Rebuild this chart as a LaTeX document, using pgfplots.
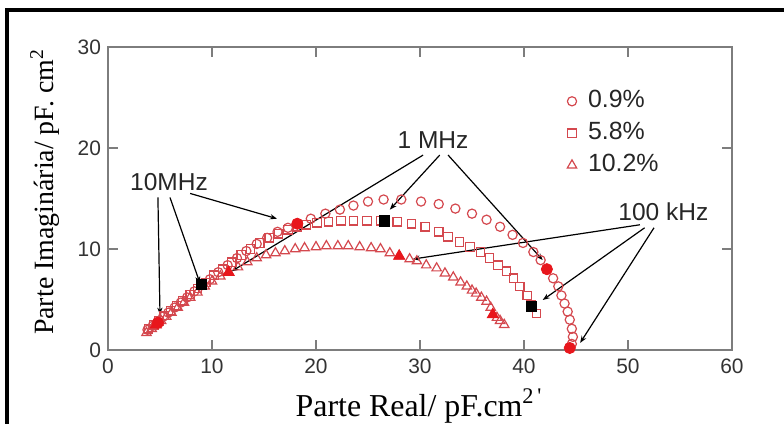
\documentclass[border=0pt]{standalone}
\usepackage{fontspec}
\setmainfont{Liberation Sans}
\newfontfamily\seriffont{Liberation Serif}
\usepackage{pgfplots}
\pgfplotsset{compat=1.18}
\usetikzlibrary{arrows.meta}
\definecolor{mk}{RGB}{212,72,78}
\definecolor{fillred}{RGB}{232,22,28}
\definecolor{axgray}{RGB}{125,125,125}

\pgfplotstableread{
x y
3.8 2.0
4.3 2.4
4.8 2.8
5.3 3.3
5.8 3.7
6.4 4.2
7.0 4.7
7.6 5.2
8.3 5.8
9.0 6.4
9.8 7.0
10.6 7.7
11.5 8.4
12.4 9.1
13.3 9.8
14.3 10.5
15.3 11.1
16.3 11.7
17.3 12.1
18.2 12.5
19.5 13.0
20.9 13.5
22.3 13.9
23.6 14.3
25.0 14.7
26.5 14.9
28.2 14.9
30.1 14.7
31.8 14.45
33.4 14.0
35.0 13.5
36.4 12.9
37.7 12.2
38.9 11.4
39.9 10.6
40.9 9.7
41.6 8.9
42.2 8.0
42.8 7.1
43.3 6.3
43.6 5.4
43.9 4.6
44.2 3.8
44.4 3.0
44.6 2.1
44.7 1.3
44.6 0.6
44.4 0.2
}\circles

\pgfplotstableread{
x y
3.9 2.1
4.4 2.5
4.9 2.9
5.4 3.4
6.0 3.9
6.6 4.4
7.2 4.9
7.9 5.5
8.6 6.1
9.4 6.7
10.2 7.4
11.0 8.0
11.9 8.7
12.8 9.4
13.7 10.0
14.6 10.6
15.5 11.1
16.4 11.5
17.3 11.9
18.2 12.2
19.1 12.4
20.1 12.6
21.2 12.7
22.4 12.8
23.6 12.8
24.9 12.8
26.2 12.8
27.8 12.7
29.2 12.5
30.5 12.2
31.8 11.7
32.7 11.2
33.8 10.7
34.8 10.2
35.8 9.7
36.7 9.1
37.5 8.4
38.3 7.8
39.0 7.1
39.6 6.3
40.3 5.4
40.7 4.5
41.2 3.6
}\squares

\pgfplotstableread{
x y
3.7 1.7
4.2 2.1
4.6 2.5
5.1 2.9
5.6 3.3
6.1 3.7
6.7 4.2
7.3 4.7
7.9 5.2
8.6 5.7
9.3 6.3
10.0 6.8
10.8 7.3
11.6 7.7
12.5 8.2
13.4 8.7
14.3 9.1
15.2 9.4
16.1 9.6
17.0 9.8
18.0 10.0
18.9 10.1
20.0 10.2
21.0 10.3
22.1 10.3
23.1 10.3
24.2 10.2
25.3 10.1
26.2 10.0
27.1 9.6
28.0 9.3
29.0 9.0
29.7 8.8
30.6 8.4
31.6 8.1
32.4 7.6
33.2 7.2
33.9 6.7
34.5 6.3
35.0 5.9
35.4 5.6
35.9 5.2
36.4 4.8
36.8 4.2
37.0 3.5
37.4 3.2
37.7 2.9
38.1 2.5
}\triangles

\begin{document}
\begin{tikzpicture}[x=1bp,y=1bp]
\useasboundingbox (0,0) rectangle (392,212);
\draw[line width=1.6bp] (3.5,-3) -- (3.5,207) -- (396,207);
\begin{axis}[at={(54bp,37bp)}, anchor=south west, scale only axis,
  width=312bp, height=151.5bp,
  xmin=0, xmax=60, ymin=0, ymax=30,
  xtick={0,10,...,60}, ytick={0,10,20,30},
  tick align=inside, major tick length=5bp,
  axis line style={axgray, line width=1bp},
  tick style={axgray, line width=0.8bp},
  ticklabel style={font=\fontsize{10.5}{12}\selectfont, text=black!80},
  xticklabel style={yshift=-1bp},
  /pgf/number format/assume math mode=true,
  clip=false,
  legend style={draw=none, fill=none, at={(axis cs:44.0,26.0)}, anchor=north west,
    inner sep=0pt, row sep=2.5bp, font=\fontsize{12.5}{15}\selectfont,
    nodes={inner sep=1bp, text height=9bp, text depth=2.5bp, text=black!85}},
  legend cell align=left,
  legend image code/.code={\path[draw=none,fill=none] (-3bp,0bp) -- (7bp,0bp);\draw[#1] plot coordinates {(0bp,0bp)};},
]
\addplot[only marks, mark=o, mark size=2.3bp, mk, mark options={line width=0.6bp}] table {\circles};
\addlegendentry{0.9\%}
\addplot[only marks, mark=square, mark size=2.1bp, mk, mark options={line width=0.6bp}] table {\squares};
\addlegendentry{5.8\%}
\addplot[only marks, mark=triangle, mark size=2.7bp, mk, mark options={line width=0.6bp}] table {\triangles};
\addlegendentry{10.2\%}
% highlighted frequencies
\addplot[only marks, mark=*, mark size=2.8bp, fillred, forget plot] coordinates {(4.8,2.7)(18.2,12.5)(42.2,8.0)(44.4,0.2)};
\addplot[only marks, mark=triangle*, mark size=3.2bp, fillred, forget plot] coordinates {(4.6,2.5)(11.6,7.7)(28.0,9.3)(37.0,3.5)};
\addplot[only marks, mark=square*, mark size=2.6bp, black, forget plot] coordinates {(9.0,6.5)(26.6,12.8)(40.7,4.3)};
% annotations
\begin{scope}[black, line width=0.6bp, -{Stealth[length=3.5bp,width=2.6bp]}]
\draw (axis cs:4.8,15.1) -- (axis cs:5.0,3.5);
\draw (axis cs:5.96,15.1) -- (axis cs:8.85,6.6);
\draw (axis cs:7.9,15.5) -- (axis cs:16.25,13.0);
\draw (axis cs:30.3,19.3) -- (axis cs:11.9,7.8);
\draw (axis cs:31.9,19.3) -- (axis cs:27.1,13.9);
\draw (axis cs:32.7,19.3) -- (axis cs:41.8,8.9);
\draw (axis cs:51.15,12.4) -- (axis cs:29.3,9.0);
\draw (axis cs:51.6,12.1) -- (axis cs:41.8,4.95);
\draw (axis cs:52.5,12.1) -- (axis cs:45.4,0.7);
\end{scope}
\node[font=\fontsize{12.3}{14}\selectfont, text=black!85] at (axis cs:5.87,16.6) {10MHz};
\node[font=\fontsize{12.3}{14}\selectfont, text=black!85] at (axis cs:31.25,20.8) {1 MHz};
\node[font=\fontsize{12.3}{14}\selectfont, text=black!85] at (axis cs:53.4,13.7) {100 kHz};
\end{axis}
\node[anchor=base, font=\seriffont\fontsize{16}{18}\selectfont] at (209.5,4) {Parte Real/ pF.cm\textsuperscript{2\,'}};
\node[rotate=90, font=\seriffont\fontsize{14}{16}\selectfont] at (22.5,116) {Parte Imaginária/ pF. cm\textsuperscript{2}};
\end{tikzpicture}
\end{document}
